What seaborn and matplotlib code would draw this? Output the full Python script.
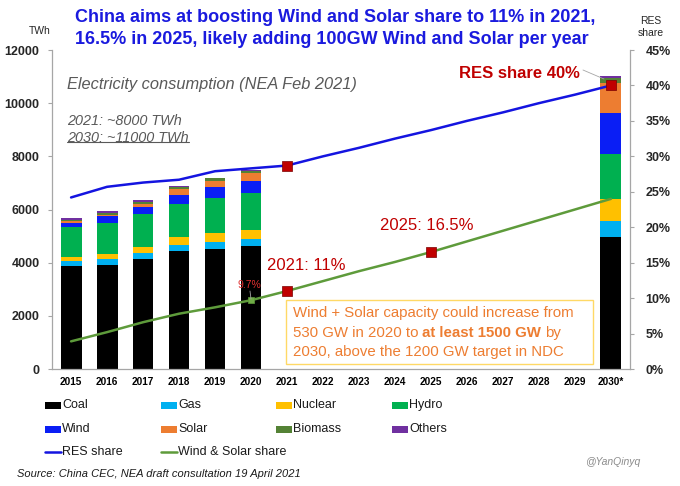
import numpy as np
import pandas as pd
import matplotlib
matplotlib.use("Agg")
import matplotlib.pyplot as plt
import seaborn as sns
from matplotlib.patches import Rectangle
from matplotlib.lines import Line2D

nan = np.nan
years = ["2015", "2016", "2017", "2018", "2019", "2020", "2021", "2022",
         "2023", "2024", "2025", "2026", "2027", "2028", "2029", "2030*"]

# Generation by source (TWh)
coal    = [3870, 3910, 4150, 4450, 4510, 4610, nan, nan, nan, nan, nan, nan, nan, nan, nan, 4970]
gas     = [200, 210, 200, 220, 260, 280, nan, nan, nan, nan, nan, nan, nan, nan, nan, 590]
nuclear = [150, 210, 250, 280, 350, 340, nan, nan, nan, nan, nan, nan, nan, nan, nan, 820]
hydro   = [1130, 1170, 1230, 1250, 1300, 1400, nan, nan, nan, nan, nan, nan, nan, nan, nan, 1700]
wind    = [160, 250, 270, 360, 410, 440, nan, nan, nan, nan, nan, nan, nan, nan, nan, 1560]
solar   = [50, 60, 120, 210, 240, 290, nan, nan, nan, nan, nan, nan, nan, nan, nan, 1120]
biomass = [50, 70, 80, 80, 100, 100, nan, nan, nan, nan, nan, nan, nan, nan, nan, 190]
others  = [60, 60, 60, 30, 30, 20, nan, nan, nan, nan, nan, nan, nan, nan, nan, 60]

# Shares (%)
res_share = [24.2, 25.7, 26.3, 26.7, 27.9, 28.3, 28.7, 30.0, 31.2, 32.5, 33.7, 35.0, 36.2, 37.5, 38.7, 40.0]
ws_share  = [3.9, 5.2, 6.6, 7.8, 8.7, 9.7, 11.0, 12.4, 13.8, 15.1, 16.5, 18.0, 19.5, 21.0, 22.5, 24.0]

red_marker_years = ["2021", "2030*", "2021", "2025"]
red_marker_vals = [28.7, 40.0, 11.0, 16.5]
green_marker_year = ["2020"]
green_marker_val = [9.7]

layers = ["Coal", "Gas", "Nuclear", "Hydro", "Wind", "Solar", "Biomass", "Others"]
colors = {"Coal": "#000000", "Gas": "#00B0F0", "Nuclear": "#FFC000", "Hydro": "#00B050",
          "Wind": "#0A1EF5", "Solar": "#ED7D31", "Biomass": "#548235", "Others": "#7030A0"}
RES_C = "#1414E0"
WS_C = "#5E9B3B"
DRED = "#C00000"
ORANGE = "#ED7D31"
GRAY = "#A6A6A6"

sns.set_theme(style="white")
plt.rcParams["font.family"] = ["Liberation Sans", "DejaVu Sans"]

W, H = 680, 486
def fx(px):
    return px / W
def fy(py):
    return 1 - py / H

fig = plt.figure(figsize=(6.8, 4.86), dpi=100)
ax = fig.add_axes([fx(52), fy(369), (630 - 52) / W, (369 - 50) / H])

df = pd.DataFrame({"year": years, "Coal": coal, "Gas": gas, "Nuclear": nuclear,
                   "Hydro": hydro, "Wind": wind, "Solar": solar,
                   "Biomass": biomass, "Others": others}).fillna(0)
cum = df[layers].cumsum(axis=1)
for name in reversed(layers):
    sns.barplot(x=df["year"], y=cum[name], order=years, color=colors[name],
                width=0.58, saturation=1, errorbar=None, linewidth=0,
                edgecolor="none", ax=ax)

ax.set_xlim(-0.53, 15.53)
ax.set_ylim(0, 12000)
ax.set_xlabel("")
ax.set_ylabel("")
ax.set_yticks(range(0, 12001, 2000))
ax.set_yticklabels([str(v) for v in range(0, 12001, 2000)], fontweight="bold", fontsize=9)
ax.set_xticks(range(len(years)))
ax.set_xticklabels(years, fontweight="bold", fontsize=7.2)
ax.set_xticks(np.arange(-0.5, len(years), 1), minor=True)
ax.tick_params(axis="x", which="major", length=0, pad=6, colors="black")
ax.tick_params(axis="x", which="minor", length=4, color=GRAY, width=0.8, direction="out")
ax.tick_params(axis="y", length=3, color=GRAY, width=0.8, direction="out", pad=6)
for s in ["top", "right"]:
    ax.spines[s].set_visible(False)
for s in ["left", "bottom"]:
    ax.spines[s].set_color(GRAY)
    ax.spines[s].set_linewidth(0.9)

# Share lines on right axis
ax2 = ax.twinx()
idx = np.arange(len(years))
sns.lineplot(x=idx, y=res_share, color=RES_C, linewidth=1.8, ax=ax2)
sns.lineplot(x=idx, y=ws_share, color=WS_C, linewidth=1.8, ax=ax2)
sns.scatterplot(x=[years.index(y) for y in red_marker_years], y=red_marker_vals,
                marker="s", s=62, color=DRED, edgecolor="#7A0000", linewidth=0.5,
                zorder=5, ax=ax2)
sns.scatterplot(x=[years.index(y) for y in green_marker_year], y=green_marker_val,
                marker="s", s=22, color="#70AD47", edgecolor=WS_C, linewidth=0.5,
                zorder=5, ax=ax2)
ax2.set_ylim(0, 45)
ax2.set_xlim(-0.53, 15.53)
ax2.set_yticks(range(0, 46, 5))
ax2.set_yticklabels([f"{v}%" for v in range(0, 46, 5)], fontweight="bold", fontsize=9)
ax2.tick_params(axis="y", length=3, color=GRAY, width=0.8, direction="out", pad=8)
ax2.set_ylabel("")
for s in ["top", "left", "bottom"]:
    ax2.spines[s].set_visible(False)
ax2.spines["right"].set_color(GRAY)
ax2.spines["right"].set_linewidth(0.9)
ax2.grid(False)
ax.grid(False)

# Titles and axis captions
TITLE_C = "#1A1ADE"
fig.text(fx(75), fy(17), "China aims at boosting Wind and Solar share to 11% in 2021,",
         color=TITLE_C, fontsize=13, fontweight="bold", va="center", ha="left")
fig.text(fx(75), fy(40), "16.5% in 2025, likely adding 100GW Wind and Solar per year",
         color=TITLE_C, fontsize=13, fontweight="bold", va="center", ha="left")
fig.text(fx(40), fy(31), "TWh", fontsize=7.5, ha="center", va="center", color="#262626")
fig.text(fx(651), fy(27), "RES\nshare", fontsize=7.5, ha="center", va="center",
         color="#262626", linespacing=1.3)

GRAYTXT = "#595959"
fig.text(fx(67), fy(84), "Electricity consumption (NEA Feb 2021)", fontsize=11.8,
         style="italic", color=GRAYTXT, va="center", ha="left")
fig.text(fx(67), fy(121), "2021: ~8000 TWh", fontsize=10.4, style="italic",
         color=GRAYTXT, va="center", ha="left")
t_u = fig.text(fx(67), fy(138), "2030: ~11000 TWh", fontsize=10.4, style="italic",
               color=GRAYTXT, va="center", ha="left")

# Annotations
fig.text(fx(580), fy(73), "RES share 40%", fontsize=12, fontweight="bold",
         color=DRED, va="center", ha="right")
fig.add_artist(Line2D([fx(583), fx(604)], [fy(70), fy(79)], color=GRAY, lw=0.6))
fig.text(fx(380), fy(225), "2025: 16.5%", fontsize=12, color=DRED, va="center", ha="left")
fig.text(fx(267), fy(265), "2021: 11%", fontsize=12, color=DRED, va="center", ha="left")
fig.text(fx(249), fy(285), "9.7%", fontsize=7.5, color="#E03030", va="center", ha="center")
fig.add_artist(Line2D([fx(250), fx(251)], [fy(291), fy(299)], color=GRAY, lw=0.6))

# Box with capacity note
fig.add_artist(Rectangle((fx(286), fy(364)), (593 - 286) / W, (364 - 300) / H,
                         transform=fig.transFigure, facecolor="white",
                         edgecolor="#FFD966", lw=1.0, zorder=3))
kw = dict(fontsize=10.8, color=ORANGE, va="center", ha="left", zorder=4)
fig.text(fx(293), fy(313), "Wind + Solar capacity could increase from", **kw)
t2a = fig.text(fx(293), fy(333), "530 GW in 2020 to", **kw)
fig.text(fx(293), fy(352), "2030, above the 1200 GW target in NDC", **kw)

# Legend (manual grid like the original)
col_x = [45, 161, 276, 392]
row_y = [405, 429, 452]
entries = [(n, "patch", colors[n]) for n in layers] + \
          [("RES share", "line", RES_C), ("Wind & Solar share", "line", WS_C)]
for i, (lab, kind, c) in enumerate(entries):
    r, cidx = divmod(i, 4)
    x0, y0 = col_x[cidx], row_y[r]
    if kind == "patch":
        fig.add_artist(Rectangle((fx(x0), fy(y0 + 3.5)), 16 / W, 7 / H,
                                 transform=fig.transFigure, facecolor=c, edgecolor="none"))
    else:
        fig.add_artist(Line2D([fx(x0), fx(x0 + 16)], [fy(y0), fy(y0)], color=c, lw=1.8))
    fig.text(fx(x0 + 17), fy(y0), lab, fontsize=9, va="center", ha="left", color="#1a1a1a")

fig.text(fx(17), fy(474), "Source: China CEC, NEA draft consultation 19 April 2021",
         fontsize=8, style="italic", va="center", ha="left", color="#1a1a1a")
fig.text(fx(640), fy(462), "@YanQinyq", fontsize=7.5, style="italic", va="center",
         ha="right", color="#8C8C8C")

# Place mixed-weight pieces and the underline using measured text extents
fig.canvas.draw()
rend = fig.canvas.get_renderer()
inv = fig.transFigure.inverted()
bb2 = t2a.get_window_extent(rend).transformed(inv)
t2b = fig.text(bb2.x1 + 4 / W, fy(333), "at least 1500 GW", fontweight="bold", **kw)
fig.canvas.draw()
bb3 = t2b.get_window_extent(rend).transformed(inv)
fig.text(bb3.x1 + 4 / W, fy(333), "by", **kw)

bb = t_u.get_window_extent(rend).transformed(inv)
uy = bb.y0 + 2.5 / H
fig.add_artist(Line2D([bb.x0, bb.x1], [uy, uy], color=GRAYTXT, lw=0.8))

fig.savefig("out.png", dpi=100)
